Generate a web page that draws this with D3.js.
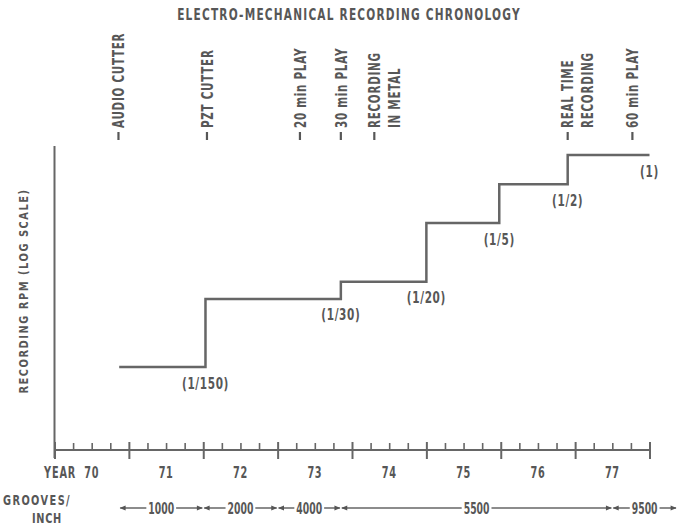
<!DOCTYPE html>
<html>
<head>
<meta charset="utf-8">
<script src="https://cdn.jsdelivr.net/npm/d3@7"></script>
<style>
  html, body { margin: 0; padding: 0; background: #fff; }
  svg text { font-family: "DejaVu Sans", "Liberation Sans", sans-serif; font-weight: bold; fill: #575757; }
</style>
</head>
<body>
<svg id="chart" width="678" height="525"></svg>
<script>
// ---- data ----
const title = "ELECTRO-MECHANICAL RECORDING CHRONOLOGY";
const yAxisTitle = "RECORDING RPM (LOG SCALE)";
const yearTicks = [70, 71, 72, 73, 74, 75, 76, 77];
const yearTickLabels = ["70", "71", "72", "73", "74", "75", "76", "77"];
const eventYears = [70.86, 72.05, 73.3, 73.85, 74.3, 76.9, 77.77];
const eventLabels = [["AUDIO CUTTER"], ["PZT CUTTER"], ["20 min PLAY"], ["30 min PLAY"],
                     ["RECORDING", "IN METAL"], ["REAL TIME", "RECORDING"], ["60 min PLAY"]];
const stepYears = [70.87, 72.03, 73.85, 75.0, 75.98, 76.9, 78.0]; // segment boundaries
const stepRates = [1/150, 1/30, 1/20, 1/5, 1/2, 1];
const stepLabels = ["(1/150)", "(1/30)", "(1/20)", "(1/5)", "(1/2)", "(1)"];
const grooveBounds = [70.87, 72.0, 73.0, 73.85, 77.5, 78.37];
const grooveLabels = ["1000", "2000", "4000", "5500", "9500"];

// ---- layout ----
const svg = d3.select("#chart");
const lineColor = "#666";
const x = d3.scaleLinear().domain([70, 78]).range([54.5, 649.5]);
const y = d3.scaleLog().domain([1/150, 1]).range([367, 155]);
const axisY = 450;

// condensed text helper: position via transform and squeeze horizontally
function ctext(px, py, str, size, sx, ls, anchor, rot) {
  return svg.append("text")
    .attr("transform", `translate(${px},${py})${rot ? " rotate(" + rot + ")" : ""} scale(${sx},1)`)
    .attr("text-anchor", anchor || "start")
    .style("font-size", size + "px").style("letter-spacing", ls + "px")
    .text(str);
}

// title
ctext(349, 20, title, 16.5, 0.64, 1.9, "middle");

// y axis title
ctext(28, 291, yAxisTitle, 13, 0.76, 2, "middle", -90);

// left axis line
svg.append("line").attr("x1", x(70)).attr("x2", x(70)).attr("y1", 146).attr("y2", 458)
  .attr("stroke", lineColor).attr("stroke-width", 2);

// bottom axis: major ticks (integer years) crossing, minor ticks (quarters) upward
const majorAxis = d3.axisBottom(x).tickValues(d3.range(70, 79)).tickSize(9).tickFormat("");
const gMaj = svg.append("g").attr("transform", `translate(0,${axisY})`).call(majorAxis);
gMaj.select(".domain").remove();
gMaj.selectAll(".tick line").attr("stroke", lineColor).attr("stroke-width", 2).attr("y1", -8);
const minorVals = d3.range(70, 78, 0.25).filter(v => v % 1 !== 0);
const minorAxis = d3.axisTop(x).tickValues(minorVals).tickSize(7).tickFormat("");
const gMin = svg.append("g").attr("transform", `translate(0,${axisY})`).call(minorAxis);
gMin.select(".domain").remove();
gMin.selectAll(".tick line").attr("stroke", lineColor).attr("stroke-width", 1.6);
svg.append("line").attr("x1", x(70)).attr("x2", x(78)).attr("y1", axisY).attr("y2", axisY)
  .attr("stroke", lineColor).attr("stroke-width", 2);

// year labels
ctext(76, 477.5, "YEAR", 15, 0.65, 1.2, "end");
yearTicks.forEach((d, i) => ctext(x(d + 0.5), 477.5, yearTickLabels[i], 15, 0.65, 1, "middle"));

// step line
const stepPts = [];
stepRates.forEach((r, i) => { stepPts.push([stepYears[i], r]); stepPts.push([stepYears[i + 1], r]); });
svg.append("path").datum(stepPts)
  .attr("d", d3.line().x(d => x(d[0])).y(d => y(d[1])))
  .attr("fill", "none").attr("stroke", lineColor).attr("stroke-width", 2.5);

// step labels
stepRates.forEach((r, i) => ctext(x(stepYears[i + 1]), y(r) + 21.5, stepLabels[i], 15, 0.7, 0.9, "middle"));

// event labels (vertical) with leading dash
eventYears.forEach((yr, i) => {
  svg.append("line").attr("x1", x(yr)).attr("x2", x(yr)).attr("y1", 132).attr("y2", 140)
    .attr("stroke", "#575757").attr("stroke-width", 2.2);
  eventLabels[i].forEach((ln, j) => {
    ctext(x(yr) + j * 20 + 5.8, 128, ln, 16, 0.65, 1.1, "start", -90);
  });
});

// grooves row
ctext(3, 505, "GROOVES/", 14, 0.7, 2, "start");
ctext(47, 523, "INCH", 14, 0.7, 1, "middle");

const defs = svg.append("defs");
defs.append("marker").attr("id", "arrow").attr("viewBox", "0 0 10 10").attr("refX", 9).attr("refY", 5)
  .attr("markerWidth", 7).attr("markerHeight", 6).attr("markerUnits", "userSpaceOnUse").attr("orient", "auto-start-reverse")
  .append("path").attr("d", "M0,1 L10,5 L0,9 z").attr("fill", "#555");

const gy = 508;
grooveLabels.forEach((lab, i) => {
  const x0 = x(grooveBounds[i]) + 1, x1 = x(grooveBounds[i + 1]) - 1;
  svg.append("line").attr("x1", x0).attr("x2", x1).attr("y1", gy).attr("y2", gy)
    .attr("stroke", lineColor).attr("stroke-width", 1.6)
    .attr("marker-start", "url(#arrow)").attr("marker-end", "url(#arrow)");
  const cx = (x0 + x1) / 2;
  const t = ctext(cx, gy + 6, lab, 16, 0.58, 0, "middle");
  const w = t.node().getComputedTextLength() * 0.58;
  svg.insert("rect", () => t.node()).attr("x", cx - w / 2 - 2).attr("y", gy - 7).attr("width", w + 4)
    .attr("height", 14).attr("fill", "#fff");
});
</script>
</body>
</html>
